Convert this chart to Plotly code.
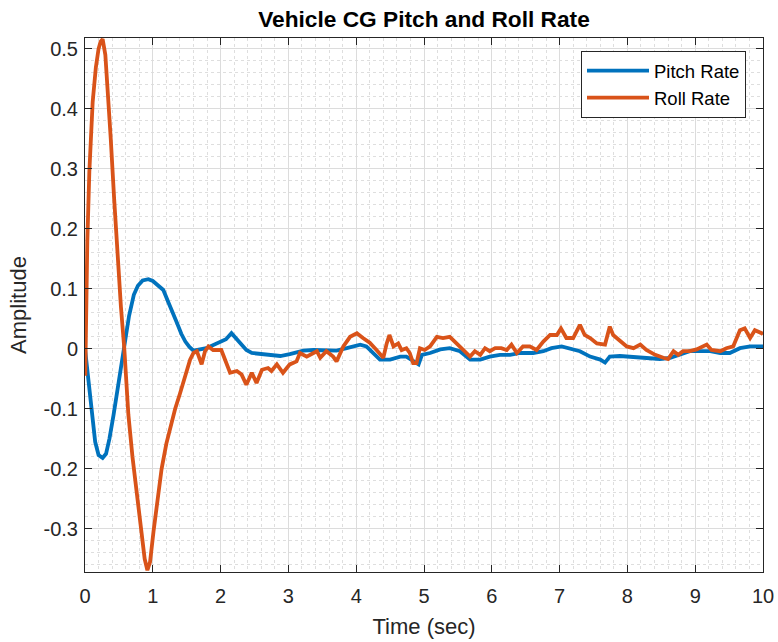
import plotly.graph_objects as go

# ---------------- data ----------------
pitch_time = [0, 0.05, 0.1, 0.15, 0.2, 0.26, 0.31, 0.36, 0.42, 0.5,
              0.58, 0.65, 0.72, 0.78, 0.85, 0.935, 1.0, 1.08, 1.155, 1.22,
              1.3, 1.36, 1.42, 1.48, 1.54, 1.6, 1.79, 1.99, 2.08, 2.16,
              2.24, 2.38, 2.46, 2.68, 2.88, 3.02, 3.22, 3.37, 3.56, 3.71,
              3.86, 4.06, 4.15, 4.30, 4.35, 4.5, 4.65, 4.74, 4.84, 4.92,
              4.97, 5.09, 5.24, 5.38, 5.53, 5.68, 5.83, 5.97, 6.12, 6.27,
              6.42, 6.61, 6.76, 6.88, 7.03, 7.15, 7.30, 7.45, 7.60, 7.67,
              7.74, 7.89, 8.04, 8.19, 8.33, 8.48, 8.63, 8.78, 8.92, 9.07,
              9.22, 9.37, 9.51, 9.66, 9.81, 10.0]
pitch_rate = [0, -0.053, -0.111, -0.155, -0.177, -0.182, -0.175, -0.15, -0.111, -0.055,
              0.0, 0.055, 0.09, 0.105, 0.114, 0.116, 0.113, 0.106, 0.098, 0.08,
              0.06, 0.042, 0.025, 0.012, 0.003, -0.003, 0.001, 0.012, 0.016, 0.026,
              0.015, -0.002, -0.007, -0.009, -0.012, -0.009, -0.003, -0.002, -0.003, -0.003,
              0.001, 0.007, 0.004, -0.012, -0.018, -0.018, -0.013, -0.013, -0.021, -0.026,
              -0.010, -0.007, -0.001, 0.001, -0.004, -0.018, -0.018, -0.013, -0.010, -0.010,
              -0.007, -0.007, -0.004, 0.001, 0.004, 0.001, -0.004, -0.013, -0.018, -0.023,
              -0.013, -0.012, -0.013, -0.015, -0.015, -0.017, -0.015, -0.010, -0.004, -0.004,
              -0.004, -0.007, -0.007, 0.001, 0.004, 0.004]

roll_time = [0, 0.002, 0.004, 0.015, 0.034, 0.064, 0.09, 0.113, 0.16, 0.2,
             0.23, 0.26, 0.3, 0.34, 0.38, 0.43, 0.48, 0.53, 0.58, 0.64,
             0.70, 0.75, 0.80, 0.84, 0.88, 0.92, 0.96, 1.01, 1.06, 1.13,
             1.2, 1.27, 1.33, 1.4, 1.45, 1.5, 1.55, 1.6, 1.65, 1.72,
             1.77, 1.82, 1.89, 2.01, 2.09, 2.14, 2.24, 2.31, 2.38, 2.46,
             2.53, 2.61, 2.70, 2.75, 2.83, 2.92, 3.02, 3.12, 3.17, 3.27,
             3.42, 3.47, 3.56, 3.66, 3.71, 3.81, 3.91, 4.01, 4.10, 4.20,
             4.30, 4.40, 4.45, 4.49, 4.55, 4.62, 4.67, 4.74, 4.79, 4.84,
             4.89, 4.94, 5.01, 5.09, 5.19, 5.28, 5.38, 5.48, 5.58, 5.68,
             5.75, 5.83, 5.90, 5.97, 6.05, 6.14, 6.22, 6.29, 6.37, 6.46,
             6.56, 6.66, 6.76, 6.86, 6.96, 7.02, 7.10, 7.20, 7.30, 7.37,
             7.45, 7.55, 7.67, 7.74, 7.79, 7.87, 7.99, 8.09, 8.19, 8.28,
             8.41, 8.53, 8.60, 8.68, 8.75, 8.82, 8.92, 9.02, 9.17, 9.24,
             9.37, 9.46, 9.56, 9.66, 9.73, 9.81, 9.88, 9.98, 10.0]
roll_rate = [0.0, 0.015, -0.045, 0.063, 0.179, 0.295, 0.36, 0.411, 0.469, 0.5,
             0.512, 0.516, 0.49, 0.43, 0.35, 0.25, 0.15, 0.07, 0.0, -0.11,
             -0.18, -0.23, -0.28, -0.315, -0.35, -0.369, -0.355, -0.305, -0.26, -0.2,
             -0.158, -0.125, -0.1, -0.075, -0.055, -0.036, -0.018, -0.007, -0.004, -0.026,
             -0.004, 0.004, -0.002, -0.002, -0.024, -0.040, -0.037, -0.043, -0.060, -0.040,
             -0.057, -0.035, -0.032, -0.037, -0.026, -0.040, -0.026, -0.021, -0.007, -0.013,
             -0.004, -0.015, -0.004, -0.013, -0.021, 0.004, 0.020, 0.026, 0.018, 0.010,
             -0.002, -0.015, 0.009, 0.023, 0.004, 0.009, -0.002, 0.001, -0.007, -0.024,
             -0.024, 0.001, -0.002, 0.004, 0.020, 0.018, 0.020, 0.009, -0.004, -0.013,
             -0.004, -0.010, 0.001, -0.004, 0.001, 0.001, -0.002, 0.007, -0.007, 0.004,
             0.004, -0.002, 0.012, 0.023, 0.023, 0.034, 0.018, 0.018, 0.040, 0.023,
             0.018, 0.009, 0.007, 0.037, 0.023, 0.015, 0.004, 0.001, 0.007, -0.002,
             -0.010, -0.015, -0.017, -0.004, -0.010, -0.004, -0.004, -0.001, 0.007, -0.002,
             -0.004, 0.001, 0.004, 0.031, 0.034, 0.018, 0.031, 0.026, 0.024]

x_ticks = [0, 1, 2, 3, 4, 5, 6, 7, 8, 9, 10]
y_ticks = [-0.3, -0.2, -0.1, 0, 0.1, 0.2, 0.3, 0.4, 0.5]
y_tick_labels = ["-0.3", "-0.2", "-0.1", "0", "0.1", "0.2", "0.3", "0.4", "0.5"]

# ---------------- figure ----------------
FONT = "Liberation Sans, Arial, Helvetica, sans-serif"
AX = "#262626"

fig = go.Figure()
fig.add_trace(go.Scatter(x=pitch_time, y=pitch_rate, mode="lines", name="Pitch Rate",
                         line=dict(color="#0072BD", width=3.8)))
fig.add_trace(go.Scatter(x=roll_time, y=roll_rate, mode="lines", name="Roll Rate",
                         line=dict(color="#D95319", width=3.8)))

fig.update_layout(
    width=778, height=642,
    margin=dict(l=85, r=15, t=38, b=70, autoexpand=False),
    paper_bgcolor="white", plot_bgcolor="white",
    font=dict(family=FONT, color=AX),
    title=dict(text="<b>Vehicle CG Pitch and Roll Rate</b>", x=0.5, xref="paper",
               y=1 - 19 / 642, yref="container", yanchor="middle",
               font=dict(size=22.7, color="#000000", family=FONT)),
    showlegend=True,
    legend=dict(x=(746 - 85) / 678, y=(572 - 51) / 534, xanchor="right", yanchor="top",
                bgcolor="white", bordercolor=AX, borderwidth=1,
                font=dict(size=18.5, color="#000000", family=FONT),
                itemwidth=62, tracegroupgap=0),
)

fig.update_xaxes(
    range=[0, 10], tickvals=x_ticks, ticks="inside", ticklen=7, tickcolor=AX,
    showline=True, linecolor=AX, linewidth=1, mirror="ticks", automargin=False,
    showgrid=True, gridcolor="#dcdcdc", gridwidth=1, zeroline=False,
    tickfont=dict(size=20, color=AX), ticklabelstandoff=6,
    title=dict(text="Time (sec)", font=dict(size=22, color=AX), standoff=12),
    minor=dict(dtick=0.2, showgrid=True, gridcolor="#dedede", griddash="dot", gridwidth=1),
)
fig.update_yaxes(
    range=[-0.372, 0.518], tickvals=y_ticks, ticktext=y_tick_labels,
    ticks="inside", ticklen=7, tickcolor=AX,
    showline=True, linecolor=AX, linewidth=1, mirror="ticks", automargin=False,
    showgrid=True, gridcolor="#dcdcdc", gridwidth=1, zeroline=False,
    tickfont=dict(size=20, color=AX), ticklabelstandoff=2,
    title=dict(text="Amplitude", font=dict(size=22, color=AX), standoff=10),
    minor=dict(dtick=0.02, showgrid=True, gridcolor="#dedede", griddash="dot", gridwidth=1),
)

fig.write_html("out.html")
